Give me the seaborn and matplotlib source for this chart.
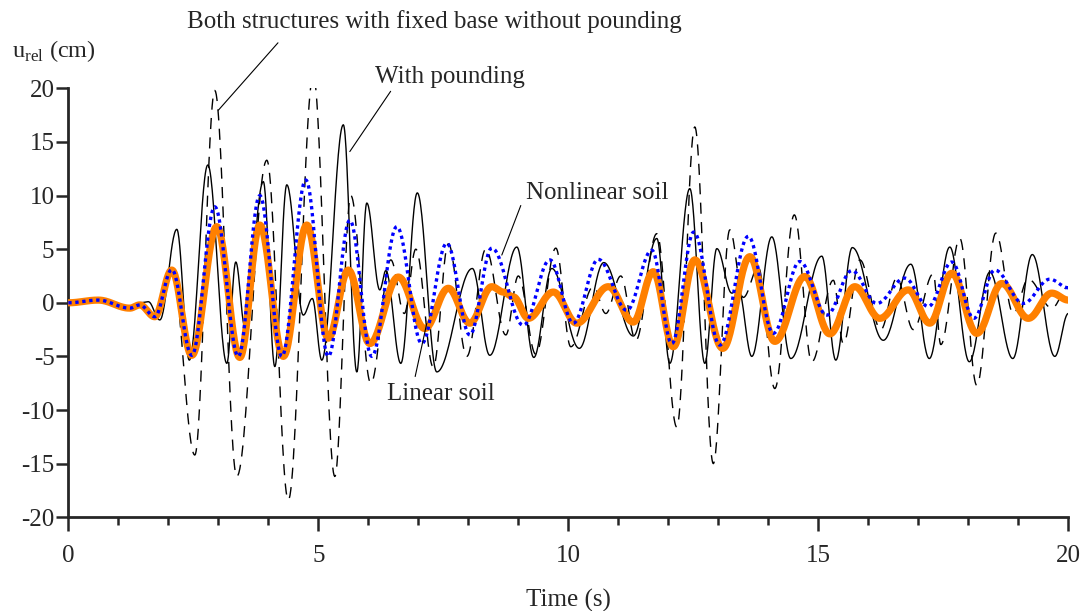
import numpy as np
import pandas as pd
import matplotlib
matplotlib.use("Agg")
import matplotlib.pyplot as plt
from matplotlib.ticker import MultipleLocator
import seaborn as sns

# ---- data (extrema of each response curve) ----
fixed_t = [0, 0.6, 1.23, 1.45, 1.75, 2.07, 2.53, 2.93, 3.37, 3.97, 4.4, 4.9, 5.33, 5.65, 6.05,
           6.45, 6.72, 6.95, 7.3, 7.6, 7.97, 8.35, 8.75, 9.0, 9.35, 9.75, 10.05, 10.5, 10.75,
           11.05, 11.35, 11.77, 12.17, 12.53, 12.9, 13.23, 13.5, 13.8, 14.13, 14.52, 14.87,
           15.3, 15.5, 15.83, 16.25, 16.57, 16.9, 17.3, 17.45, 17.83, 18.17, 18.55, 18.9,
           19.2, 19.67, 20.0]
fixed_u = [0, 0.25, -0.5, -0.1, -1.2, 3.2, -14.2, 19.8, -16.2, 13.3, -18.4, 21.2, -16.2, 10.0, -7.5,
           4.0, -1.0, 5.0, -6.0, 5.5, -5.0, 5.0, -3.0, 2.5, -4.8, 5.1, -4.1, 1.5, -1.0,
           2.5, -3.5, 6.45, -11.6, 16.4, -15.0, 6.8, 0.5, 3.3, -8.0, 8.2, -5.5,
           2.1, -3.8, 4.0, -2.5, 2.3, -2.5, 2.7, -3.9, 6.0, -7.7, 6.5, -1.0,
           2.2, -0.5, 1.5]

pound_t = [0, 0.6, 1.23, 1.43, 1.6, 1.83, 2.17, 2.42, 2.79, 3.17, 3.35, 3.53, 3.9, 4.13, 4.37,
           4.7, 4.88, 5.07, 5.5, 5.77, 5.97, 6.23, 6.35, 6.65, 6.98, 7.37, 8.08, 8.43, 8.97,
           9.31, 9.67, 10.22, 10.71, 11.3, 11.77, 12.03, 12.43, 12.73, 12.97, 13.27, 13.4,
           13.67, 14.07, 14.45, 15.07, 15.35, 15.68, 16.3, 16.85, 17.22, 17.63, 18.02, 18.43,
           18.89, 19.28, 19.73, 20.0]
pound_u = [0, 0.25, -0.5, 0.0, 0.1, -1.6, 6.85, -5.35, 12.85, -5.65, 3.8, -2.2, 11.3, -5.95, 11.0,
           -1.15, 0.4, -5.35, 16.6, -6.45, 9.3, 1.2, 3.0, -5.65, 10.25, -6.45, 3.2, -4.9, 5.2,
           -5.1, 3.2, -4.25, 3.75, -3.1, 6.0, -5.65, 10.65, -5.65, 5.05, 0.9, 1.3,
           -5.0, 6.15, -5.2, 4.35, -5.35, 5.15, -3.5, 3.6, -5.2, 5.2, -5.5, 2.85,
           -5.2, 4.5, -5.0, -1.0]

nonlin_t = [0, 0.6, 1.23, 1.43, 1.73, 2.07, 2.47, 2.93, 3.4, 3.83, 4.27, 4.75, 5.2, 5.63, 6.07,
            6.57, 7.07, 7.57, 8.03, 8.47, 9.1, 9.63, 10.1, 10.6, 11.17, 11.67, 12.07, 12.51,
            13.03, 13.6, 14.1, 14.63, 15.17, 15.67, 16.17, 16.73, 17.2, 17.67, 18.11, 18.53,
            19.1, 19.63, 20.0]
nonlin_u = [0, 0.25, -0.5, -0.2, -1.3, 3.1, -4.9, 8.95, -5.0, 10.0, -5.0, 11.45, -5.0, 7.7, -5.0,
            7.1, -3.8, 5.55, -3.0, 5.1, -2.1, 4.0, -1.9, 4.05, -0.7, 4.9, -3.8, 6.6,
            -3.95, 6.2, -2.85, 3.85, -1.15, 3.0, -0.06, 2.3, -0.35, 3.8, -1.45, 3.05,
            -0.06, 2.2, 1.4]

lin_t = [0, 0.6, 1.23, 1.43, 1.73, 2.07, 2.47, 2.97, 3.43, 3.83, 4.3, 4.77, 5.2, 5.6, 6.03,
         6.6, 7.13, 7.6, 8.03, 8.47, 8.7, 8.9, 9.2, 9.7, 10.17, 10.8, 11.3, 11.7, 12.1,
         12.53, 13.09, 13.63, 14.13, 14.73, 15.23, 15.73, 16.23, 16.8, 17.23, 17.67, 18.17,
         18.67, 19.2, 19.67, 20.0]
lin_u = [0, 0.25, -0.5, -0.2, -1.3, 3.05, -4.9, 7.1, -5.1, 7.25, -5.0, 7.25, -3.3, 3.05, -3.8,
         2.4, -2.4, 1.35, -1.9, 1.5, 1.0, 0.55, -1.45, 1.0, -1.9, 1.5, -1.8, 2.9, -4.1,
         4.0, -4.25, 4.3, -3.6, 2.45, -2.9, 1.5, -1.45, 1.2, -1.9, 2.75, -2.85,
         1.8, -1.45, 0.9, 0.25]


def smooth(t, u, n=30):
    """Render a smooth curve through the read extrema (half-cosine between points)."""
    xs, ys = [], []
    for i in range(len(t) - 1):
        s = np.linspace(0, 1, n, endpoint=False)
        w = (1 - np.cos(np.pi * s)) / 2
        xs.append(t[i] + (t[i + 1] - t[i]) * s)
        ys.append(u[i] + (u[i + 1] - u[i]) * w)
    xs.append([t[-1]])
    ys.append([u[-1]])
    return pd.DataFrame({"t": np.concatenate(xs), "u": np.concatenate(ys)})


sns.set_theme(style="ticks")
plt.rcParams["font.family"] = ["Liberation Serif", "DejaVu Serif"]
plt.rcParams["mathtext.fontset"] = "custom"
plt.rcParams["mathtext.rm"] = "Liberation Serif"
plt.rcParams["axes.unicode_minus"] = False

fig = plt.figure(figsize=(10.86, 6.11), dpi=100)
ax = fig.add_axes([0.0629, 0.1534, 0.9208, 0.7021])

d = smooth(fixed_t, fixed_u)
sns.lineplot(data=d, x="t", y="u", ax=ax, sort=False, estimator=None, color="black",
             lw=1.0, linestyle=(0, (8, 6)), zorder=2)
d = smooth(pound_t, pound_u)
sns.lineplot(data=d, x="t", y="u", ax=ax, sort=False, estimator=None, color="black",
             lw=1.0, zorder=3)
d = smooth(lin_t, lin_u)
sns.lineplot(data=d, x="t", y="u", ax=ax, sort=False, estimator=None, color="#ff8000",
             lw=5.2, zorder=4, solid_capstyle="round")
d = smooth(nonlin_t, nonlin_u)
sns.lineplot(data=d, x="t", y="u", ax=ax, sort=False, estimator=None, color="#0000ff",
             lw=2.4, linestyle=(0, (1, 1.1)), zorder=5)

ax.set_xlim(0, 20)
ax.set_ylim(-20, 20)
ax.xaxis.set_major_locator(MultipleLocator(5))
ax.xaxis.set_minor_locator(MultipleLocator(1))
ax.yaxis.set_major_locator(MultipleLocator(5))
ax.tick_params(axis="y", which="major", direction="out", length=9, width=1.8, labelsize=18, pad=1)
ax.tick_params(axis="x", which="major", direction="out", length=10, width=1.8, labelsize=18, pad=10)
ax.tick_params(axis="x", which="minor", direction="out", length=6, width=1.8)
for sp in ["top", "right"]:
    ax.spines[sp].set_visible(False)
for sp in ["left", "bottom"]:
    ax.spines[sp].set_linewidth(2.0)
ax.set_xlabel("Time (s)", fontsize=18, labelpad=16)
ax.set_ylabel("")

fig.text(0.011, 0.906, r"u$_{\rm rel}$ (cm)", fontsize=17.5, ha="left", va="baseline")

fs = 18
ax.annotate("Both structures with fixed base without pounding", xy=(3.0, 17.95), xytext=(7.33, 26.2),
            ha="center", va="center", fontsize=fs, annotation_clip=False, zorder=6,
            arrowprops=dict(arrowstyle="-", color="black", lw=0.8, shrinkA=6, shrinkB=0,
                            relpos=(0.2, 0.0)))
ax.annotate("With pounding", xy=(5.63, 14.1), xytext=(7.63, 21.05),
            ha="center", va="center", fontsize=fs, annotation_clip=False, zorder=6,
            arrowprops=dict(arrowstyle="-", color="black", lw=0.8, shrinkA=0, shrinkB=0,
                            relpos=(0.12, 0.0)))
ax.annotate("Nonlinear soil", xy=(8.67, 4.45), xytext=(10.57, 10.23),
            ha="center", va="center", fontsize=fs, annotation_clip=False, zorder=6,
            arrowprops=dict(arrowstyle="-", color="black", lw=0.8, shrinkA=3, shrinkB=0,
                            relpos=(0.0, 0.5)))
ax.annotate("Linear soil", xy=(7.17, -1.9), xytext=(7.45, -8.46),
            ha="center", va="center", fontsize=fs, annotation_clip=False, zorder=6,
            arrowprops=dict(arrowstyle="-", color="black", lw=0.8, shrinkA=2, shrinkB=0,
                            relpos=(0.25, 1.0)))

fig.savefig("out.png", dpi=100)
